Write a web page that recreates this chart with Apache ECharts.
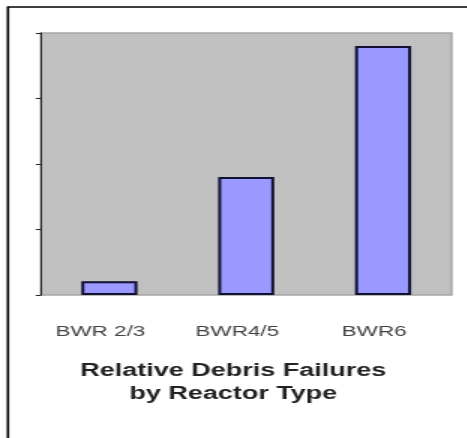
<!DOCTYPE html>
<html>
<head>
<meta charset="utf-8">
<script src="https://cdn.jsdelivr.net/npm/echarts@6/dist/echarts.min.js"></script>
<style>
  html, body { margin: 0; padding: 0; background: #fff; overflow: hidden; }
  /* The chart is laid out narrow and then widened, which gives the wide lettering */
  #chart {
    width: 311px;
    height: 438px;
    transform: scaleX(1.5);
    transform-origin: 0 0;
  }
</style>
</head>
<body>
<div id="chart"></div>
<script>
// Reactor types and their relative debris failure counts
const reactorTypes = ['BWR 2/3', 'BWR4/5', 'BWR6'];
const relativeFailures = [0.21, 1.8, 3.8];
const titleLines = ['Relative Debris Failures', 'by Reactor Type'];

const chart = echarts.init(document.getElementById('chart'));

chart.setOption({
  animation: false,
  backgroundColor: '#ffffff',
  title: {
    text: titleLines.join('\n'),
    left: 'center',
    top: 360,
    padding: [0, 0, 0, 12],
    textStyle: {
      fontFamily: 'Liberation Sans, Arial, sans-serif',
      fontSize: 18,
      fontWeight: 'bold',
      color: '#222',
      lineHeight: 23
    }
  },
  grid: {
    left: 27.3,
    right: 10,
    top: 33,
    height: 262,
    show: true,
    backgroundColor: '#c0c0c0',
    borderColor: '#a6a6a6',
    borderWidth: 1.5
  },
  graphic: [
    {
      type: 'rect',
      shape: { x: 5.3, y: 7, width: 400, height: 460 },
      style: { fill: 'none', stroke: '#000', lineWidth: 1.6 },
      z: 100
    }
  ],
  xAxis: {
    type: 'category',
    data: reactorTypes,
    axisLine: { show: false },
    axisTick: { show: false },
    axisLabel: {
      margin: 29,
      padding: [0, 12, 0, 0],
      fontFamily: 'Liberation Sans, Arial, sans-serif',
      fontSize: 15,
      color: '#444'
    }
  },
  yAxis: {
    type: 'value',
    min: 0,
    max: 4,
    interval: 1,
    axisLine: { show: true, lineStyle: { color: '#222', width: 1 } },
    axisTick: { show: true, length: 3.5, lineStyle: { color: '#222' } },
    axisLabel: { show: false },
    splitLine: { show: false }
  },
  series: [
    {
      type: 'bar',
      data: relativeFailures,
      barWidth: '41%',
      itemStyle: {
        color: '#9999ff',
        borderColor: '#111133',
        borderWidth: 2
      }
    }
  ]
});
</script>
</body>
</html>
